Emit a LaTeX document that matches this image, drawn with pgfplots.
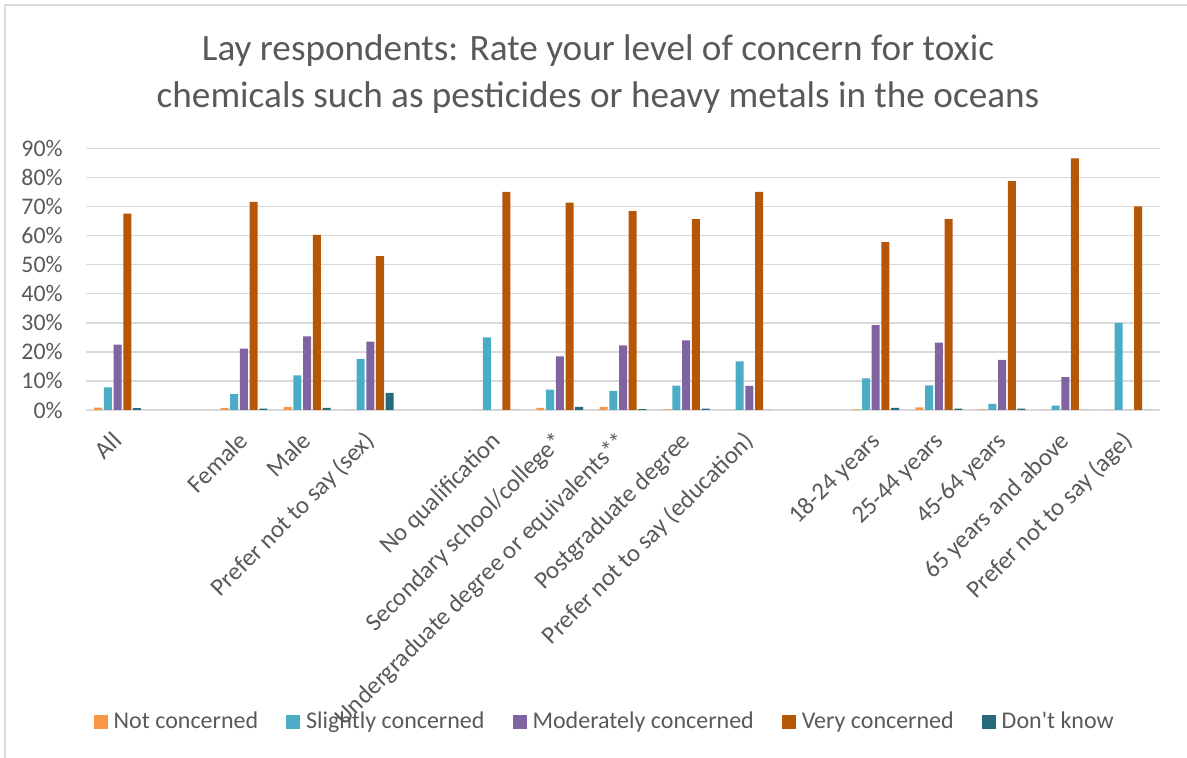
\documentclass[border=0pt]{standalone}
\usepackage{fontspec}
\setmainfont{Carlito}
\usepackage{pgfplots}
\pgfplotsset{compat=1.18}

\definecolor{txtgrey}{HTML}{595959}
\definecolor{gridgrey}{HTML}{D9D9D9}
\definecolor{cNot}{HTML}{F79646}
\definecolor{cSlight}{HTML}{4BACC6}
\definecolor{cMod}{HTML}{8064A2}
\definecolor{cVery}{HTML}{B65708}
\definecolor{cDK}{HTML}{276A7C}

\begin{document}
\begin{tikzpicture}
\useasboundingbox (0,0) rectangle (593.5pt,379pt);
% chart frame (left and top edges)
\draw[gridgrey, line width=1pt] (2.5pt,0pt) -- (2.5pt,376.5pt) -- (593.5pt,376.5pt);

% title
\node[anchor=base, text=txtgrey, font=\fontsize{18.6}{22}\selectfont, inner sep=0pt]
  at (299pt,348.5pt) {Lay respondents: Rate your level of concern for toxic};
\node[anchor=base, text=txtgrey, font=\fontsize{18.6}{22}\selectfont, inner sep=0pt]
  at (299pt,325pt) {chemicals such as pesticides or heavy metals in the oceans};

\begin{axis}[
  at={(43pt,174pt)}, anchor=south west,
  scale only axis, width=537pt, height=130.85pt,
  xmin=-0.5, xmax=16.5, ymin=0, ymax=90,
  ybar=0.85pt, bar width=4pt,
  axis x line*=bottom, axis y line*=left,
  x axis line style={gridgrey, line width=0.75pt, -},
  y axis line style={draw=none},
  tick style={draw=none},
  ymajorgrids, major grid style={gridgrey, line width=0.75pt},
  ytick={0,10,...,90},
  yticklabels={0\%,10\%,20\%,30\%,40\%,50\%,60\%,70\%,80\%,90\%},
  yticklabel style={anchor=east, inner sep=0pt, xshift=-11.5pt, text=txtgrey,
    font=\fontsize{11.9}{14}\selectfont},
  xtick={0,2,3,4,6,7,8,9,10,12,13,14,15,16},
  xticklabels={All, Female, Male, Prefer not to say (sex), No qualification,
    Secondary school/college*, Undergraduate degree or equivalents**,
    Postgraduate degree, Prefer not to say (education), 18-24 years,
    25-44 years, 45-64 years, 65 years and above, Prefer not to say (age)},
  xticklabel style={xshift=-3.5pt, yshift=-5.5pt, rotate=45, anchor=north east,
    inner sep=0pt, text height=8.8pt, text depth=2.6pt,
    text=txtgrey, font=\fontsize{12.4}{15}\selectfont},
  legend columns=5,
  legend style={draw=none, fill=none, inner sep=0pt,
    nodes={inner sep=0pt},
    at={(0.0068,-1.192)}, anchor=west,
    font=\fontsize{12}{14}\selectfont, text=txtgrey,
    /tikz/every odd column/.append style={column sep=3pt},
    /tikz/every even column/.append style={column sep=14pt}},
  legend cell align=left,
  legend image code/.code={\fill[#1,draw=none] (0pt,-3.5pt) rectangle (7pt,3.5pt);},
  every axis plot/.append style={draw=none},
]
\addplot[fill=cNot] coordinates {(0,0.8) (2,0.7) (3,1.0) (4,0) (6,0) (7,0.7) (8,1.1) (9,0.2) (10,0) (12,0.2) (13,0.9) (14,0.2) (15,0) (16,0)};
\addplot[fill=cSlight] coordinates {(0,7.8) (2,5.5) (3,11.9) (4,17.6) (6,25) (7,7.0) (8,6.6) (9,8.4) (10,16.7) (12,10.9) (13,8.5) (14,2.1) (15,1.5) (16,30)};
\addplot[fill=cMod] coordinates {(0,22.5) (2,21.1) (3,25.3) (4,23.5) (6,0) (7,18.4) (8,22.2) (9,23.9) (10,8.3) (12,29.2) (13,23.2) (14,17.2) (15,11.3) (16,0)};
\addplot[fill=cVery] coordinates {(0,67.5) (2,71.6) (3,60.2) (4,52.9) (6,75) (7,71.3) (8,68.4) (9,65.6) (10,75) (12,57.7) (13,65.6) (14,78.7) (15,86.5) (16,70)};
\addplot[fill=cDK] coordinates {(0,0.6) (2,0.5) (3,0.7) (4,5.9) (6,0) (7,1.1) (8,0.3) (9,0.5) (10,0) (12,0.7) (13,0.5) (14,0.5) (15,0) (16,0)};
\legend{Not concerned, Slightly concerned, Moderately concerned, Very concerned, Don\textquotesingle t know}
\end{axis}
\end{tikzpicture}
\end{document}
